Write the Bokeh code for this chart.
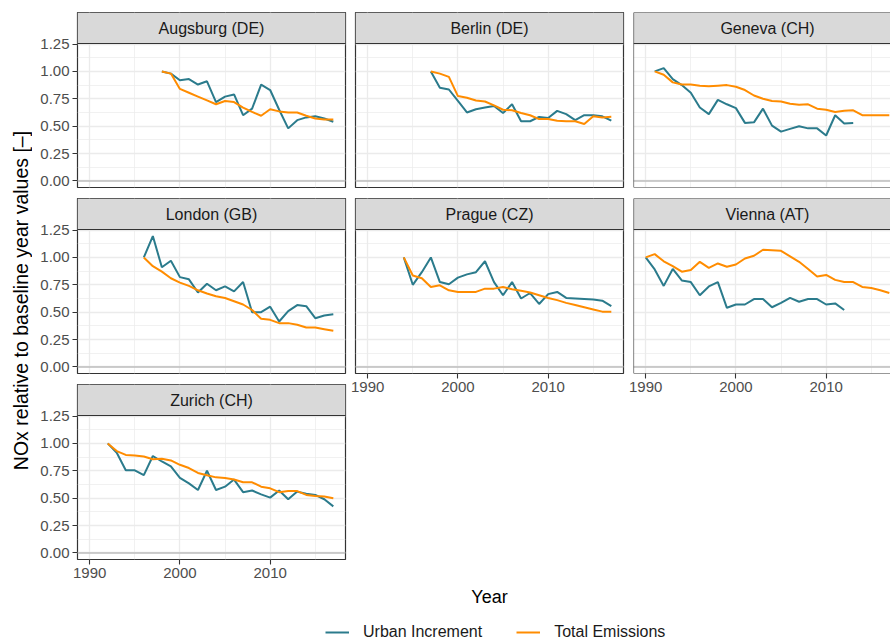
from math import pi
from bokeh.plotting import figure
from bokeh.models import (Range1d, FixedTicker, Span, Label, Legend, LegendItem,
                          BoxAnnotation)
from bokeh.layouts import row, column
from bokeh.embed import file_html
from bokeh.resources import INLINE

# ---------------- data ----------------
series_names = ["Urban Increment", "Total Emissions"]
y_title = "NOx relative to baseline year values [\u2013]"
x_title = "Year"

x_ticks = [1990, 2000, 2010]
x_tick_labels = ["1990", "2000", "2010"]
x_minor = [1995, 2005, 2015]
y_ticks = [0.0, 0.25, 0.5, 0.75, 1.0, 1.25]
y_tick_labels = ["0.00", "0.25", "0.50", "0.75", "1.00", "1.25"]
y_minor = [0.125, 0.375, 0.625, 0.875, 1.125]

augsburg_years = list(range(1998, 2018))
augsburg_urban = [1.00, 0.98, 0.92, 0.93, 0.88, 0.91, 0.72, 0.77, 0.79, 0.60,
                  0.66, 0.88, 0.83, 0.65, 0.48, 0.555, 0.58, 0.59, 0.57, 0.54]
augsburg_total = [1.00, 0.98, 0.84, 0.805, 0.77, 0.735, 0.70, 0.73, 0.72, 0.67,
                  0.63, 0.595, 0.655, 0.635, 0.625, 0.625, 0.595, 0.57, 0.56, 0.56]

berlin_years = list(range(1997, 2018))
berlin_urban = [1.00, 0.85, 0.835, 0.73, 0.625, 0.655, 0.67, 0.685, 0.62, 0.70, 0.545,
                0.545, 0.585, 0.575, 0.64, 0.61, 0.555, 0.60, 0.60, 0.59, 0.55]
berlin_total = [1.00, 0.98, 0.95, 0.775, 0.76, 0.735, 0.725, 0.69, 0.65, 0.645, 0.62,
                0.60, 0.565, 0.565, 0.55, 0.545, 0.545, 0.52, 0.59, 0.58, 0.585]

geneva_urban_years = list(range(1991, 2014))
geneva_urban = [1.00, 1.03, 0.93, 0.875, 0.805, 0.67, 0.61, 0.74, 0.70, 0.665, 0.53, 0.535,
                0.66, 0.505, 0.45, 0.475, 0.50, 0.48, 0.48, 0.415, 0.60, 0.525, 0.53]
geneva_total_years = list(range(1991, 2018))
geneva_total = [1.00, 0.97, 0.90, 0.88, 0.88, 0.87, 0.865, 0.87, 0.875, 0.86,
                0.83, 0.78, 0.75, 0.73, 0.725, 0.705, 0.695, 0.70, 0.66, 0.65,
                0.63, 0.64, 0.645, 0.60, 0.60, 0.60, 0.60]

london_years = list(range(1996, 2018))
london_urban = [1.00, 1.195, 0.91, 0.97, 0.82, 0.80, 0.68, 0.76, 0.70, 0.735, 0.69,
                0.775, 0.50, 0.50, 0.55, 0.415, 0.51, 0.565, 0.555, 0.445, 0.47, 0.48]
london_total = [1.00, 0.92, 0.87, 0.81, 0.77, 0.74, 0.70, 0.67, 0.645, 0.63, 0.60,
                0.57, 0.52, 0.44, 0.43, 0.40, 0.40, 0.385, 0.36, 0.36, 0.345, 0.33]

prague_years = list(range(1994, 2018))
prague_urban = [1.00, 0.75, 0.865, 1.00, 0.775, 0.755, 0.815, 0.845, 0.865, 0.965, 0.775, 0.655,
                0.775, 0.625, 0.675, 0.575, 0.665, 0.685, 0.63, 0.625, 0.62, 0.615, 0.605, 0.555]
prague_total = [1.00, 0.835, 0.81, 0.73, 0.745, 0.70, 0.685, 0.685, 0.685, 0.715, 0.715, 0.73,
                0.71, 0.695, 0.68, 0.655, 0.63, 0.61, 0.585, 0.565, 0.545, 0.525, 0.505, 0.505]

vienna_urban_years = list(range(1990, 2013))
vienna_urban = [1.00, 0.89, 0.74, 0.895, 0.79, 0.775, 0.655, 0.735, 0.775, 0.54, 0.57, 0.57,
                0.62, 0.62, 0.545, 0.585, 0.63, 0.595, 0.62, 0.62, 0.57, 0.58, 0.52]
vienna_total_years = list(range(1990, 2018))
vienna_total = [1.00, 1.03, 0.965, 0.92, 0.87, 0.885, 0.96, 0.905, 0.945, 0.915,
                0.935, 0.99, 1.015, 1.07, 1.065, 1.06, 1.01, 0.96, 0.895, 0.825,
                0.84, 0.795, 0.775, 0.775, 0.73, 0.72, 0.70, 0.675]

zurich_years = list(range(1992, 2018))
zurich_urban = [1.00, 0.915, 0.755, 0.755, 0.71, 0.885, 0.835, 0.79, 0.685, 0.635, 0.575, 0.75, 0.575,
                0.605, 0.67, 0.555, 0.57, 0.535, 0.505, 0.57, 0.49, 0.56, 0.54, 0.53, 0.49, 0.425]
zurich_total = [1.00, 0.93, 0.895, 0.89, 0.88, 0.855, 0.86, 0.845, 0.805, 0.775, 0.73, 0.71, 0.69,
                0.685, 0.67, 0.645, 0.645, 0.605, 0.59, 0.555, 0.565, 0.565, 0.53, 0.52, 0.515, 0.50]

# ---------------- styling ----------------
TEAL = "#2B7B8C"
ORANGE = "#FF8C00"
FONT = "Liberation Sans"
GRID = "#EBEBEB"
BORDER = "#333333"
STRIP = "#D9D9D9"

STRIP_H = 31
PANEL_H = 144
GAP = 11
TOP = 12
XAX_B = 26

X_START, X_END_FULL = 1988.65, 2018.35
Y_LO, Y_HI = -0.06, 1.255
PPU = PANEL_H / (Y_HI - Y_LO)
Y_TOP = Y_HI + STRIP_H / PPU          # strip sits above the data area
# column geometry: (left border, right border, frame width, x end, right edge cut off)
COLS = [(45, 5, 268, X_END_FULL, False), (5, 5, 268, X_END_FULL, False),
        (5, 0, 257, X_START + 257 * (X_END_FULL - X_START) / 268, True)]


def make_panel(name, col, ux, uy, tx, ty, show_x, show_y, first):
    lb, rb, fw, xend, cut = COLS[col]
    p = figure(frame_width=fw, frame_height=PANEL_H + STRIP_H,
               min_border_left=lb, min_border_right=rb,
               min_border_top=TOP if first else 0,
               min_border_bottom=XAX_B if show_x else GAP,
               x_range=Range1d(X_START, xend), y_range=Range1d(Y_LO, Y_TOP),
               x_axis_location="below" if show_x else None,
               y_axis_location="left" if show_y else None,
               toolbar_location=None, output_backend="svg",
               background_fill_color="white", border_fill_color="white",
               outline_line_color=None if cut else BORDER, outline_line_width=1.2)
    p.xgrid.ticker = FixedTicker(ticks=x_ticks, minor_ticks=x_minor)
    p.ygrid.ticker = FixedTicker(ticks=y_ticks, minor_ticks=y_minor)
    for g in (p.xgrid, p.ygrid):
        g.grid_line_color = GRID
        g.grid_line_width = 1.3
        g.minor_grid_line_color = GRID
        g.minor_grid_line_width = 0.7
    axes = []
    if show_x:
        p.xaxis.ticker = FixedTicker(ticks=x_ticks)
        p.xaxis.major_label_overrides = dict(zip(x_ticks, x_tick_labels))
        axes.append(p.xaxis)
    if show_y:
        p.yaxis.ticker = FixedTicker(ticks=y_ticks)
        p.yaxis.major_label_overrides = dict(zip(y_ticks, y_tick_labels))
        axes.append(p.yaxis)
    for ax in axes:
        ax.axis_line_color = None
        ax.major_tick_line_color = BORDER
        ax.major_tick_line_width = 1.1
        ax.major_tick_out = 5
        ax.major_tick_in = 0
        ax.minor_tick_line_color = None
        ax.major_label_standoff = 3
        ax.major_label_text_font = FONT
        ax.major_label_text_font_size = "15px"
        ax.major_label_text_color = "#4D4D4D"
    p.add_layout(Span(location=0, dimension="width", line_color="#BEBEBE", line_width=1.5))
    p.line(ux, uy, line_color=TEAL, line_width=2)
    p.line(tx, ty, line_color=ORANGE, line_width=2)
    # facet strip
    p.add_layout(BoxAnnotation(bottom=Y_HI, fill_color=STRIP, fill_alpha=1.0, line_color=None))
    p.add_layout(Span(location=Y_HI, dimension="width", line_color=BORDER, line_width=1.2))
    if cut:
        # panel border without the right edge (cut off by the picture's edge)
        p.add_layout(Span(location=X_START, dimension="height", line_color=BORDER, line_width=1.2))
        p.add_layout(Span(location=Y_LO, dimension="width", line_color=BORDER, line_width=1.2))
        p.add_layout(Span(location=Y_TOP, dimension="width", line_color=BORDER, line_width=1.2))
    p.add_layout(Label(x=(X_START + X_END_FULL) / 2, y=(Y_HI + Y_TOP) / 2, text=name,
                       text_align="center", text_baseline="middle", text_font=FONT,
                       text_font_size="16px", text_color="#1A1A1A"))
    return p


c1 = column(
    make_panel("Augsburg (DE)", 0, augsburg_years, augsburg_urban, augsburg_years, augsburg_total, False, True, True),
    make_panel("London (GB)", 0, london_years, london_urban, london_years, london_total, False, True, False),
    make_panel("Zurich (CH)", 0, zurich_years, zurich_urban, zurich_years, zurich_total, True, True, False),
    spacing=0)
c2 = column(
    make_panel("Berlin (DE)", 1, berlin_years, berlin_urban, berlin_years, berlin_total, False, False, True),
    make_panel("Prague (CZ)", 1, prague_years, prague_urban, prague_years, prague_total, True, False, False),
    spacing=0)
c3 = column(
    make_panel("Geneva (CH)", 2, geneva_urban_years, geneva_urban, geneva_total_years, geneva_total, False, False, True),
    make_panel("Vienna (AT)", 2, vienna_urban_years, vienna_urban, vienna_total_years, vienna_total, True, False, False),
    spacing=0)

COL_H = TOP + 3 * (STRIP_H + PANEL_H) + 2 * GAP + XAX_B

# y-axis title
YT_W = 32
yt = figure(width=YT_W, height=COL_H, min_border=0, x_range=Range1d(0, YT_W), y_range=Range1d(0, COL_H),
            x_axis_location=None, y_axis_location=None, toolbar_location=None,
            output_backend="svg", outline_line_color=None, background_fill_color="white")
yt.grid.visible = False
yt.add_layout(Label(x=20.5, y=COL_H - 300, text=y_title, angle=pi / 2, text_align="center",
                    text_baseline="middle", text_font=FONT, text_font_size="19.5px", text_color="black"))

# bottom: x title + legend
BW, BH = 890, 641 - COL_H
bt = figure(width=BW, height=BH, min_border=0, x_range=Range1d(0, BW), y_range=Range1d(0, BH),
            x_axis_location=None, y_axis_location=None, toolbar_location=None,
            output_backend="svg", outline_line_color=None, background_fill_color="white")
bt.grid.visible = False
bt.add_layout(Label(x=489, y=BH - 11, text=x_title, text_align="center", text_baseline="alphabetic",
                    text_font=FONT, text_font_size="18px", text_color="black"))
nan = float("nan")
r1 = bt.line(x=[nan], y=[nan], line_color=TEAL, line_width=2)
r2 = bt.line(x=[nan], y=[nan], line_color=ORANGE, line_width=2)
leg = Legend(items=[LegendItem(label=series_names[0], renderers=[r1]),
                    LegendItem(label=series_names[1], renderers=[r2])],
             orientation="horizontal", location=(325, 0), glyph_width=24, glyph_height=16,
             label_height=16, label_standoff=14, spacing=34, padding=0, margin=0,
             border_line_color=None, background_fill_alpha=0,
             label_text_font=FONT, label_text_font_size="16px", label_text_color="#1A1A1A")
bt.add_layout(leg)

layout = column(row(yt, c1, c2, c3, spacing=0), bt, spacing=0)

open("out.html", "w").write(file_html(layout, INLINE))
